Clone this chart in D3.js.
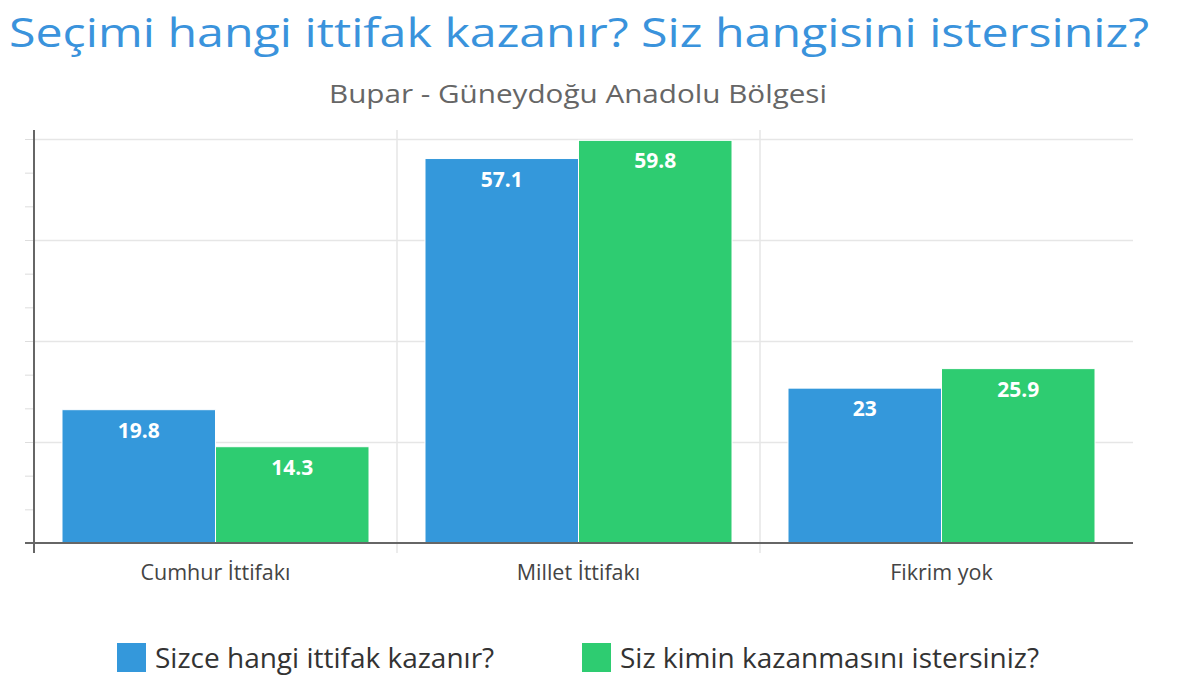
<!DOCTYPE html>
<html>
<head>
<meta charset="utf-8">
<script src="https://cdn.jsdelivr.net/npm/d3@7"></script>
<style>
	body { margin: 0; background: #fff; }
	svg { display: block; font-family: "Open Sans", sans-serif; }
</style>
</head>
<body>
<div id="chart"></div>
<script>
// Chart data
const categories = ["Cumhur İttifakı", "Millet İttifakı", "Fikrim yok"];
const seriesNames = ["Sizce hangi ittifak kazanır?", "Siz kimin kazanmasını istersiniz?"];
const winValues = [19.8, 57.1, 23];
const wantValues = [14.3, 59.8, 25.9];
const seriesColors = ["#3498db", "#2ecc71"];
const yMax = 60;

const W = 1200, H = 682;
const plot = { left: 34, right: 1123, top: 139, bottom: 543 };

const svg = d3.select("#chart").append("svg").attr("width", W).attr("height", H);

const rows = categories.map((c, i) => ({ cat: c, values: [winValues[i], wantValues[i]] }));

const x0 = d3.scaleBand().domain(categories).range([plot.left, plot.right]).paddingInner(0).paddingOuter(0);
const x1 = d3.scaleBand().domain([0, 1]).range([28, x0.bandwidth() - 28]).padding(0);
const y = d3.scaleLinear().domain([0, yMax]).range([plot.bottom, plot.top]);

// Title and subtitle (the reference is a bit stretched horizontally)
svg.append("text")
	.attr("x", 579).attr("y", 47)
	.attr("text-anchor", "middle")
	.attr("textLength", 1140)
	.attr("lengthAdjust", "spacingAndGlyphs")
	.style("font-size", "40px")
	.style("fill", "#3a93dc")
	.text("Seçimi hangi ittifak kazanır? Siz hangisini istersiniz?");

svg.append("text")
	.attr("x", 578).attr("y", 103)
	.attr("text-anchor", "middle")
	.attr("textLength", 498)
	.attr("lengthAdjust", "spacingAndGlyphs")
	.style("font-size", "25px")
	.style("fill", "#666")
	.text("Bupar - Güneydoğu Anadolu Bölgesi");

// Horizontal grid
svg.append("g")
	.attr("transform", `translate(${plot.left},0)`)
	.call(d3.axisLeft(y).tickValues(d3.range(15, yMax + 1, 15)).tickSize(-(1133 - plot.left)).tickFormat(""))
	.call((g) => g.select(".domain").remove())
	.call((g) => g.selectAll("line").attr("stroke", "#e6e6e6").attr("stroke-width", 1.5));

// Minor ticks on the y axis
svg.append("g")
	.attr("transform", `translate(${plot.left},0)`)
	.call(d3.axisLeft(y).tickValues(d3.range(5, yMax + 1, 5)).tickSize(9).tickFormat(""))
	.call((g) => g.select(".domain").remove())
	.call((g) => g.selectAll("line").attr("stroke", "#ddd"));

// Vertical grid between categories
svg.append("g")
	.selectAll("line")
	.data(categories.slice(1))
	.join("line")
	.attr("x1", (d) => x0(d)).attr("x2", (d) => x0(d))
	.attr("y1", 130).attr("y2", 553)
	.attr("stroke", "#e6e6e6").attr("stroke-width", 1.5);

// Bars
const groups = svg.append("g")
	.selectAll("g")
	.data(rows)
	.join("g")
	.attr("transform", (d) => `translate(${x0(d.cat)},0)`);

groups.selectAll("rect")
	.data((d) => d.values.map((v, i) => ({ v, i })))
	.join("rect")
	.attr("x", (d) => x1(d.i))
	.attr("y", (d) => y(d.v))
	.attr("width", x1.bandwidth())
	.attr("height", (d) => y(0) - y(d.v))
	.attr("fill", (d) => seriesColors[d.i])
	.attr("stroke", "#fff")
	.attr("stroke-width", 1);

groups.selectAll("text")
	.data((d) => d.values.map((v, i) => ({ v, i })))
	.join("text")
	.attr("x", (d) => x1(d.i) + x1.bandwidth() / 2)
	.attr("y", (d) => y(d.v) + 28)
	.attr("text-anchor", "middle")
	.style("font-size", "21px")
	.style("font-weight", "bold")
	.style("fill", "#fff")
	.text((d) => d.v);

// Axes lines
svg.append("line")
	.attr("x1", plot.left).attr("x2", plot.left)
	.attr("y1", 130).attr("y2", 553)
	.attr("stroke", "#666").attr("stroke-width", 2);

svg.append("line")
	.attr("x1", 25).attr("x2", 1133)
	.attr("y1", plot.bottom).attr("y2", plot.bottom)
	.attr("stroke", "#666").attr("stroke-width", 2);

// Category labels
svg.append("g")
	.selectAll("text")
	.data(categories)
	.join("text")
	.attr("x", (d) => x0(d) + x0.bandwidth() / 2)
	.attr("y", 580)
	.attr("text-anchor", "middle")
	.style("font-size", "21.5px")
	.style("fill", "#444")
	.text((d) => d);

// Legend
const legendX = [117, 582];
const legend = svg.append("g")
	.selectAll("g")
	.data(seriesNames)
	.join("g")
	.attr("transform", (d, i) => `translate(${legendX[i]},643)`);

legend.append("rect")
	.attr("width", 29).attr("height", 29)
	.attr("fill", (d, i) => seriesColors[i]);

legend.append("text")
	.attr("x", 38).attr("y", 25)
	.style("font-size", "28px")
	.style("fill", "#333")
	.text((d) => d);
</script>
</body>
</html>
